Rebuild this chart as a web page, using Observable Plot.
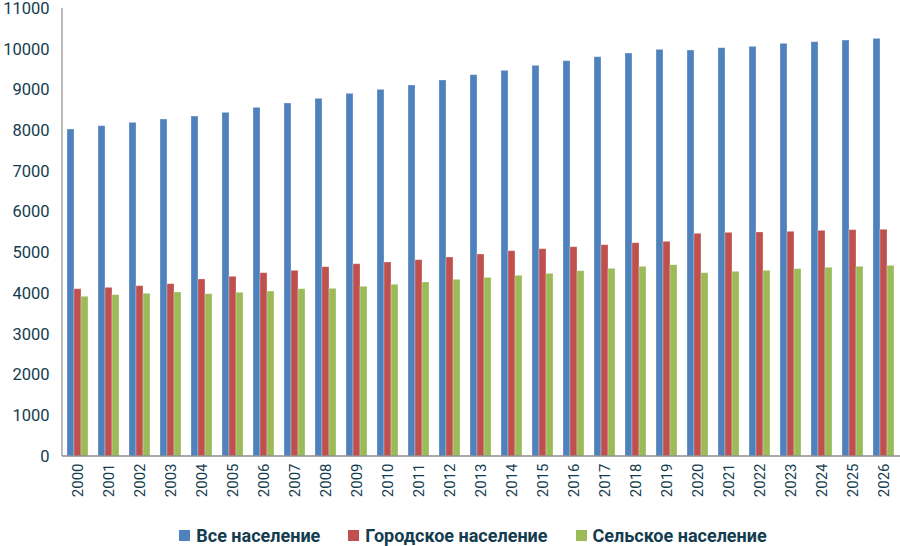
<!DOCTYPE html>
<html>
<head>
<meta charset="utf-8">
<script src="https://cdn.jsdelivr.net/npm/d3@7"></script>
<script src="https://cdn.jsdelivr.net/npm/@observablehq/plot@0.6"></script>
<style>
  html, body { margin: 0; padding: 0; background: #fff; }
  #chart { width: 900px; font-family: Roboto, "Noto Sans", sans-serif; color: #143c4f; }
  #legend { display: flex; justify-content: center; align-items: center; gap: 28px;
            height: 36px; margin-top: 7px; margin-left: 46px; font: bold 18px Roboto, sans-serif; color: #143c4f; }
  #legend .item { display: flex; align-items: center; gap: 6px; }
  #legend .sw { width: 11px; height: 11px; display: inline-block; }
</style>
</head>
<body>
<div id="chart"></div>
<script>
// Численность населения, тыс. человек
const years = [2000, 2001, 2002, 2003, 2004, 2005, 2006, 2007, 2008, 2009, 2010, 2011, 2012,
               2013, 2014, 2015, 2016, 2017, 2018, 2019, 2020, 2021, 2022, 2023, 2024, 2025, 2026];
const total = [8028, 8110, 8192, 8274, 8347, 8438, 8560, 8667, 8781, 8904, 9002, 9109, 9232,
               9362, 9469, 9592, 9706, 9804, 9894, 9984, 9968, 10025, 10058, 10132, 10172, 10213, 10254];
const urban = [4108, 4141, 4182, 4231, 4346, 4412, 4501, 4559, 4648, 4721, 4763, 4820, 4886,
               4960, 5041, 5090, 5139, 5188, 5237, 5271, 5468, 5492, 5500, 5517, 5541, 5557, 5566];
const rural = [3921, 3961, 3995, 4027, 3985, 4019, 4051, 4108, 4117, 4166, 4216, 4272, 4338,
               4387, 4437, 4485, 4550, 4608, 4657, 4697, 4501, 4534, 4559, 4599, 4633, 4657, 4682];
const seriesNames = ["Все население", "Городское население", "Сельское население"];
const seriesColors = ["#4f81bd", "#c0504d", "#9bbb59"];
const yTicks = d3.range(0, 12000, 1000);

const rows = [];
years.forEach((year, i) => {
  [total[i], urban[i], rural[i]].forEach((value, k) => {
    rows.push({year, series: seriesNames[k], value});
  });
});

const textColor = "#143c4f";
const axisColor = "#8c8c8c";
const W = 900, H = 510, mL = 62, mR = 0, mT = 8, mB = 54;

const chart = Plot.plot({
  width: W,
  height: H,
  marginLeft: mL,
  marginRight: mR,
  marginTop: mT,
  marginBottom: mB,
  style: {fontFamily: "Roboto, sans-serif", color: textColor, background: "#fff"},
  fx: {domain: years, paddingInner: 0.32, paddingOuter: 0.16, label: null},
  x: {domain: seriesNames, padding: 0, axis: null},
  y: {domain: [0, 11000], ticks: yTicks, label: null},
  color: {domain: seriesNames, range: seriesColors},
  marks: [
    Plot.barY(rows, {
      fx: "year", x: "series", y: "value", fill: "series",
      stroke: "#ffffff", strokeOpacity: 0.35, strokeWidth: 0.8
    }),
    Plot.axisY({ticks: yTicks, tickSize: 0, tickPadding: 18, fontSize: 16.5,
                fill: textColor, label: null, tickFormat: d => String(d)}),
    Plot.axisFx({anchor: "bottom", tickSize: 0, tickPadding: 7, tickRotate: -90, fontSize: 15,
                 fill: textColor, label: null, tickFormat: d => String(d)})
  ]
});

// Axis lines along the left edge and the zero baseline, placed with the chart's y scale
const yScale = chart.scale("y");
const svg = d3.select(chart.tagName.toLowerCase() === "svg" ? chart : chart.querySelector("svg"));
const y0 = yScale.apply(0);
const yTop = yScale.apply(11000);
svg.append("line")
  .attr("x1", mL).attr("x2", mL).attr("y1", yTop).attr("y2", y0)
  .attr("stroke", axisColor).attr("stroke-width", 1.2);
svg.append("line")
  .attr("x1", mL).attr("x2", W - mR).attr("y1", y0).attr("y2", y0)
  .attr("stroke", axisColor).attr("stroke-width", 1.6);

const root = document.getElementById("chart");
root.appendChild(chart);

const legend = document.createElement("div");
legend.id = "legend";
seriesNames.forEach((name, k) => {
  const item = document.createElement("span");
  item.className = "item";
  const sw = document.createElement("span");
  sw.className = "sw";
  sw.style.background = seriesColors[k];
  const label = document.createElement("span");
  label.textContent = name;
  item.appendChild(sw);
  item.appendChild(label);
  legend.appendChild(item);
});
root.appendChild(legend);
</script>
</body>
</html>
